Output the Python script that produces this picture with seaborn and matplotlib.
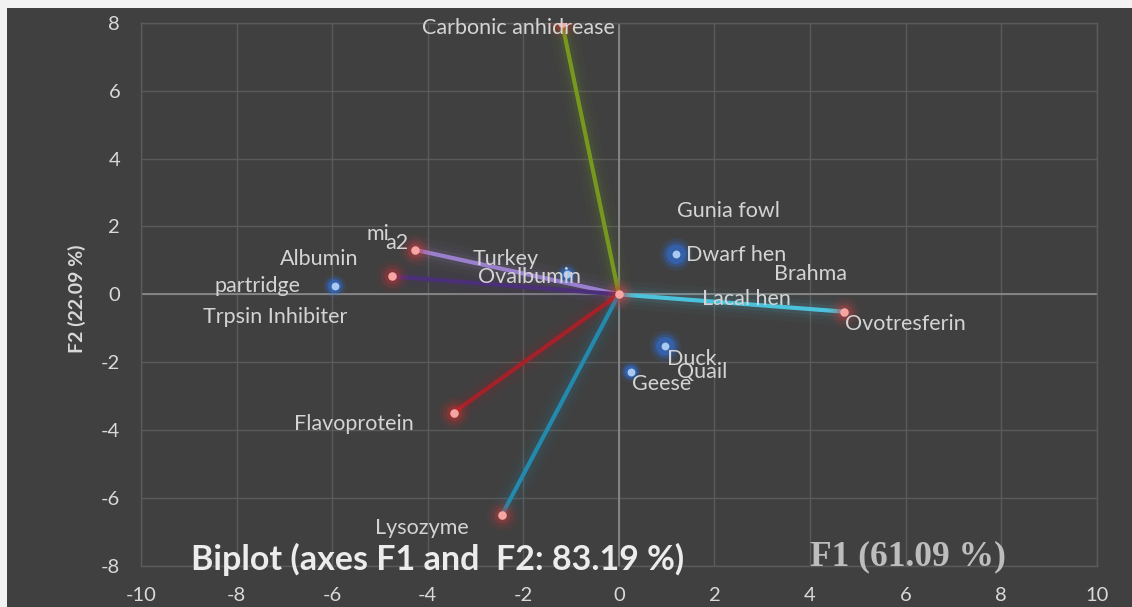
import pandas as pd
import matplotlib
matplotlib.use("Agg")
import matplotlib.pyplot as plt
import seaborn as sns
from matplotlib.patches import Rectangle

# Variables (vecteurs depuis l'origine) : coordonnées F1 / F2
var_names = ["Carbonic anhidrease", "a2", "mi", "Ovotresferin", "Flavoprotein", "Lysozyme"]
var_f1 = [-1.19, -4.26, -4.75, 4.72, -3.46, -2.45]
var_f2 = [8.0, 1.31, 0.53, -0.51, -3.48, -6.5]

# Observations (points bleus)
obs_names = ["Dwarf hen", "Duck", "Geese", "partridge", "Turkey"]
obs_f1 = [1.2, 0.975, 0.25, -5.95, -1.08]
obs_f2 = [1.18, -1.53, -2.28, 0.24, 0.59]

# Etiquettes telles que placées dans le graphique
labels = ["Carbonic anhidrease", "Gunia fowl", "Dwarf hen", "Brahma", "Lacal hen",
          "Ovotresferin", "Duck", "Quail", "Geese", "Turkey", "Ovalbumin", "mi", "a2",
          "Albumin", "partridge", "Trpsin Inhibiter", "Flavoprotein", "Lysozyme"]
label_f1 = [-2.10, 2.30, 1.40, 4.01, 2.67, 4.73, 1.01, 1.22, 0.27, -2.37, -1.86,
            -5.04, -4.65, -6.28, -7.57, -7.19, -5.54, -4.13]
label_f2 = [7.85, 2.45, 1.17, 0.61, -0.14, -0.87, -1.90, -2.28, -2.65, 1.05, 0.51,
            1.78, 1.51, 1.03, 0.24, -0.67, -3.83, -6.88]
left_aligned = {"Dwarf hen", "Ovotresferin", "Duck", "Quail", "Geese"}

x_ticks = list(range(-10, 11, 2))
y_ticks = list(range(-8, 9, 2))

var_colors = {"Carbonic anhidrease": "#77981f", "a2": "#9a80cc", "mi": "#4b2f78",
              "Ovotresferin": "#4cc3dc", "Flavoprotein": "#a52129", "Lysozyme": "#2389ad"}

BG = "#404040"
TXT = "#d4d4d4"

sns.set_style("dark")
plt.rcParams["font.family"] = ["Lato", "DejaVu Sans"]
plt.rcParams["axes.unicode_minus"] = False

fig = plt.figure(figsize=(11.32, 6.07), dpi=100, facecolor="#f2f2f2")
fig.add_artist(Rectangle((7 / 1132, 0), 1, 1 - 8 / 607, transform=fig.transFigure,
                         facecolor=BG, edgecolor="none", zorder=-10))
ax = fig.add_axes([0.1246, 0.0675, 0.8442, 0.8951])
ax.set_facecolor(BG)

# lignes des vecteurs
rows = []
for n, a, b in zip(var_names, var_f1, var_f2):
    rows.append({"var": n, "F1": 0.0, "F2": 0.0})
    rows.append({"var": n, "F1": a, "F2": b})
df_lines = pd.DataFrame(rows)

# halo
for lw, al in [(20, 0.035), (13, 0.055), (8, 0.09)]:
    sns.lineplot(data=df_lines, x="F1", y="F2", hue="var", palette=var_colors, sort=False,
                 estimator=None, linewidth=lw, alpha=al, legend=False, ax=ax,
                 solid_capstyle="round", zorder=3)
sns.lineplot(data=df_lines, x="F1", y="F2", hue="var", palette=var_colors, sort=False,
             estimator=None, linewidth=3, legend=False, ax=ax, zorder=4)

# points variables + origine
pts_x = var_f1 + [0.0]
pts_y = var_f2 + [0.0]
for s, al in [(520, 0.07), (280, 0.13), (130, 0.25)]:
    sns.scatterplot(x=pts_x, y=pts_y, color="#e0302c", s=s, alpha=al, linewidth=0, ax=ax, zorder=5)
sns.scatterplot(x=pts_x, y=pts_y, color="#f6a5a2", s=38, linewidth=0, ax=ax, zorder=6)

# observations
glow_sizes = [560, 520, 220, 260, 220]
for k, al in [(1.0, 0.14), (0.6, 0.28), (0.35, 0.5)]:
    sns.scatterplot(x=obs_f1, y=obs_f2, color="#2f6fd8", s=[g * k for g in glow_sizes],
                    alpha=al, linewidth=0, ax=ax, zorder=5, legend=False)
sns.scatterplot(x=obs_f1, y=obs_f2, color="#a9c9f3", s=32, linewidth=0, ax=ax, zorder=6)

for t, a, b in zip(labels, label_f1, label_f2):
    ax.text(a, b, t, color=TXT, fontsize=15.5, ha="left" if t in left_aligned else "center",
            va="center", zorder=7)

ax.set_xlim(-10, 10)
ax.set_ylim(-8, 8)
ax.set_xticks(x_ticks)
ax.set_yticks(y_ticks)
ax.grid(True, color="#5a5a5a", linewidth=1)
ax.axhline(0, color="#8e8e8e", linewidth=1.2, zorder=2)
ax.axvline(0, color="#8e8e8e", linewidth=1.2, zorder=2)
for sp in ax.spines.values():
    sp.set_color("#5a5a5a")
    sp.set_linewidth(1)
ax.tick_params(length=0, colors="#d9d9d9", labelsize=14.5, pad=15)
ax.set_xlabel("")
ax.set_ylabel("")

fig.text(77 / 1132, 1 - 299 / 607, "F2 (22.09 %)", rotation=90, ha="center", va="center",
         color="#d9d9d9", fontsize=14, fontweight="bold")

ax.text(-8.95, -7.8, "Biplot (axes F1 and  F2: 83.19 %)", color="#ececec", fontsize=24.5,
        fontweight="bold", ha="left", va="center", zorder=8)
ax.text(6.05, -7.73, "F1 (61.09 %)", color="#bdbdbd", fontsize=25.5, fontweight="bold",
        family=["Liberation Serif", "DejaVu Serif"], ha="center", va="center", zorder=8)

fig.savefig("out.png", dpi=100, facecolor=fig.get_facecolor())
